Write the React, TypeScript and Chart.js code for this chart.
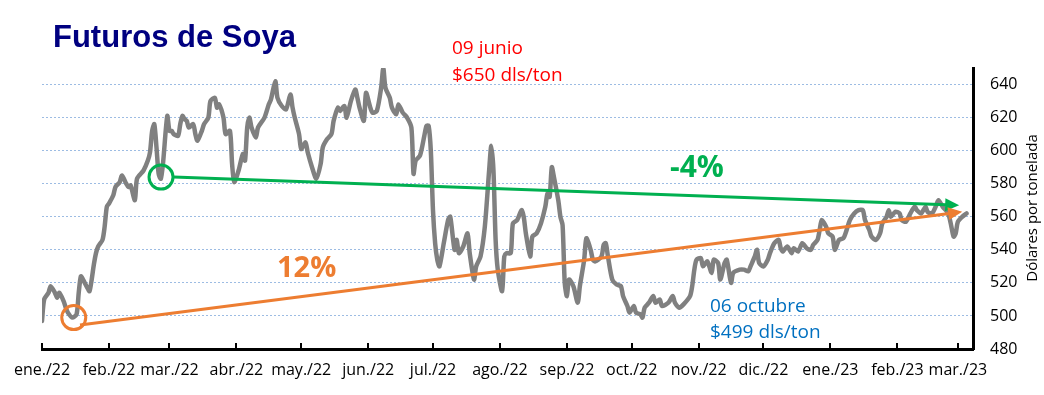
import React, { useEffect, useRef } from 'react';
import { Chart, registerables } from 'chart.js';

Chart.register(...registerables);

// X axis: days counted from 1 Jan 2022; ticks at the first day of each month
const monthTickDays = [0, 31, 59, 90, 120, 151, 181, 212, 243, 273, 304, 334, 365, 396, 424];
const monthLabels = [
  'ene./22', 'feb./22', 'mar./22', 'abr./22', 'may./22', 'jun./22', 'jul./22', 'ago./22',
  'sep./22', 'oct./22', 'nov./22', 'dic./22', 'ene./23', 'feb./23', 'mar./23',
];
const yTickValues = [480, 500, 520, 540, 560, 580, 600, 620, 640];

// Soybean futures (USD / ton), day index from 1 Jan 2022
const dayIndex = [
  0, 1, 3, 4, 6, 7, 8, 10, 11, 12, 14, 16, 17, 18, 19, 21, 22, 23, 24, 25, 26, 28, 29, 30, 31, 33, 34, 36, 37, 39,
  40, 41, 43, 44, 47, 49, 50, 51, 52, 53, 54, 55, 56, 58, 59, 60, 61, 63, 64, 65, 66, 67, 68, 70, 71, 72, 74, 75, 77, 78,
  80, 81, 82, 84, 85, 87, 88, 89, 91, 93, 94, 95, 96, 97, 99, 100, 103, 105, 106, 108, 109, 111, 113, 115, 116, 117, 119, 120, 122, 123,
  125, 127, 129, 130, 132, 134, 135, 137, 138, 140, 141, 143, 145, 146, 147, 149, 150, 152, 153, 155, 157, 158, 159, 161, 162, 164, 165, 167, 169, 171,
  172, 173, 175, 177, 178, 179, 180, 181, 182, 183, 184, 186, 188, 189, 191, 192, 193, 195, 197, 198, 200, 201, 203, 205, 207, 208, 209, 210, 211, 213,
  214, 215, 217, 218, 220, 222, 223, 224, 226, 227, 229, 231, 233, 234, 235, 236, 237, 239, 240, 241, 242, 243, 244, 246, 248, 249, 251, 252, 254, 255,
  256, 259, 260, 261, 262, 264, 266, 268, 269, 271, 272, 274, 275, 277, 278, 279, 281, 283, 284, 286, 287, 290, 292, 293, 295, 297, 300, 301, 302, 303,
  305, 306, 308, 310, 311, 313, 314, 316, 317, 319, 320, 323, 325, 327, 328, 330, 331, 332, 334, 336, 337, 339, 341, 342, 343, 345, 347, 348, 350, 352,
  354, 356, 357, 359, 360, 361, 363, 364, 366, 367, 369, 371, 372, 374, 376, 378, 380, 381, 383, 384, 386, 388, 389, 391, 392, 393, 395, 397, 398, 400,
  402, 404, 405, 407, 409, 410, 412, 414, 415, 417, 419, 420, 421, 422, 423, 424, 426, 428,
];
const soyPrice = [
  497, 510, 514, 518, 514, 511, 514, 509, 505, 502, 499, 501, 514, 524, 522, 517, 515, 522, 531, 538, 542, 546, 554, 566, 568, 573, 578, 581, 585, 580,
  578, 579, 570, 583, 588, 594, 599, 612, 616, 602, 586, 583, 592, 621, 612, 612, 610, 609, 616, 621, 619, 618, 614, 616, 610, 606, 612, 616, 620, 630,
  632, 626, 628, 620, 610, 612, 592, 581, 588, 598, 594, 614, 620, 614, 608, 614, 620, 628, 631, 642, 632, 627, 625, 634, 626, 620, 610, 601, 605, 599,
  590, 583, 592, 602, 607, 610, 618, 626, 624, 627, 620, 630, 637, 632, 626, 618, 635, 626, 623, 624, 638, 650, 638, 632, 626, 622, 628, 623, 620, 614,
  586, 594, 597, 609, 615, 615, 600, 564, 544, 534, 530, 544, 558, 560, 540, 546, 538, 542, 550, 538, 522, 530, 536, 554, 588, 603, 588, 546, 528, 515,
  536, 538, 538, 556, 558, 564, 560, 550, 536, 548, 550, 556, 566, 574, 572, 590, 584, 570, 560, 555, 520, 512, 522, 518, 508, 518, 534, 547, 540, 534,
  533, 536, 543, 544, 536, 522, 519, 518, 512, 506, 502, 506, 502, 501, 499, 505, 508, 512, 508, 510, 506, 508, 512, 508, 505, 507, 512, 518, 528, 534,
  535, 530, 533, 526, 534, 532, 522, 532, 534, 520, 526, 528, 528, 527, 530, 536, 540, 532, 530, 534, 538, 544, 546, 541, 539, 542, 538, 541, 539, 544,
  541, 540, 543, 546, 552, 558, 554, 550, 548, 540, 546, 547, 550, 558, 562, 564, 564, 558, 552, 548, 546, 550, 556, 560, 564, 560, 563, 562, 558, 557,
  562, 566, 564, 562, 566, 563, 562, 567, 570, 566, 563, 560, 554, 548, 550, 557, 560, 562,
];

// Trend arrows [start, end]
const greenTrendDays = [60.9, 424.6];
const greenTrendValues = [584, 567];
const orangeTrendDays = [17.6, 426];
const orangeTrendValues = [494.5, 563];
// Circled points
const circleDays = [14.7, 55.1];
const circleValues = [499, 584];
const circleColors = ['#ED7D31', '#00B050'];

const overlayPlugin = {
  id: 'overlay',
  afterDatasetsDraw(chart: any) {
    const { ctx, scales } = chart;
    const xs = scales.x;
    const ys = scales.y;
    const drawArrow = (days: number[], vals: number[], color: string) => {
      const x0 = xs.getPixelForValue(days[0]);
      const y0 = ys.getPixelForValue(vals[0]);
      const x1 = xs.getPixelForValue(days[1]);
      const y1 = ys.getPixelForValue(vals[1]);
      const ang = Math.atan2(y1 - y0, x1 - x0);
      const headLen = 14;
      const headW = 6.5;
      const bx = x1 - headLen * Math.cos(ang);
      const by = y1 - headLen * Math.sin(ang);
      ctx.save();
      ctx.strokeStyle = color;
      ctx.lineWidth = 3;
      ctx.lineCap = 'butt';
      ctx.beginPath();
      ctx.moveTo(x0, y0);
      ctx.lineTo(bx + 1, by);
      ctx.stroke();
      ctx.fillStyle = color;
      ctx.beginPath();
      ctx.moveTo(x1, y1);
      ctx.lineTo(bx + headW * Math.sin(ang), by - headW * Math.cos(ang));
      ctx.lineTo(bx - headW * Math.sin(ang), by + headW * Math.cos(ang));
      ctx.closePath();
      ctx.fill();
      ctx.restore();
    };
    drawArrow(greenTrendDays, greenTrendValues, '#00B050');
    drawArrow(orangeTrendDays, orangeTrendValues, '#ED7D31');
    circleDays.forEach((d, i) => {
      ctx.save();
      ctx.strokeStyle = circleColors[i];
      ctx.lineWidth = 3;
      ctx.beginPath();
      ctx.arc(xs.getPixelForValue(d), ys.getPixelForValue(circleValues[i]), 12, 0, Math.PI * 2);
      ctx.stroke();
      ctx.restore();
    });
  },
  afterDraw(chart: any) {
    const { ctx, scales, chartArea } = chart;
    const xs = scales.x;
    // inward x tick marks
    ctx.save();
    ctx.strokeStyle = '#000';
    ctx.lineWidth = 2;
    xs.ticks.forEach((t: any) => {
      const px = Math.round(xs.getPixelForValue(t.value));
      ctx.beginPath();
      ctx.moveTo(px, chartArea.bottom);
      ctx.lineTo(px, chartArea.bottom - 6);
      ctx.stroke();
    });
    ctx.restore();

    const text = (s: string, x: number, y: number, font: string, color: string) => {
      ctx.save();
      ctx.font = font;
      ctx.fillStyle = color;
      ctx.textBaseline = 'alphabetic';
      ctx.textAlign = 'left';
      ctx.fillText(s, x, y);
      ctx.restore();
    };
    text('Futuros de Soya', 53, 47, 'bold 31px "Liberation Sans", Arial, sans-serif', '#000080');
    text('09 junio', 452, 54, '19px "Open Sans", sans-serif', '#FF0000');
    text('$650 dls/ton', 452, 81, '19px "Open Sans", sans-serif', '#FF0000');
    text('-4%', 670, 177, 'bold 30px "Open Sans", sans-serif', '#00B050');
    text('12%', 277, 277, 'bold 29px "Open Sans", sans-serif', '#ED7D31');
    text('06 octubre', 710, 312, '19px "Open Sans", sans-serif', '#0070C0');
    text('$499 dls/ton', 710, 338, '19px "Open Sans", sans-serif', '#0070C0');

    // rotated y-axis title
    ctx.save();
    ctx.translate(1037, 208);
    ctx.rotate(-Math.PI / 2);
    ctx.font = '15px "Open Sans", sans-serif';
    ctx.fillStyle = '#000';
    ctx.textAlign = 'center';
    ctx.textBaseline = 'alphabetic';
    ctx.fillText('Dólares por tonelada', 0, 0);
    ctx.restore();
  },
};

export default function App() {
  const canvasRef = useRef<HTMLCanvasElement | null>(null);

  useEffect(() => {
    if (!canvasRef.current) return;
    const chart = new Chart(canvasRef.current, {
      type: 'line',
      data: {
        datasets: [
          {
            label: 'Futuros de Soya',
            data: dayIndex.map((d, i) => ({ x: d, y: soyPrice[i] })),
            borderColor: '#808080',
            borderWidth: 4.5,
            pointRadius: 0,
            tension: 0.25,
            borderJoinStyle: 'round',
            borderCapStyle: 'round',
            fill: false,
          },
        ],
      },
      options: {
        animation: false,
        responsive: false,
        events: [],
        layout: { padding: { left: 42, top: 68, right: 0, bottom: 0 } },
        plugins: {
          legend: { display: false },
          tooltip: { enabled: false },
          title: { display: false },
        },
        scales: {
          x: {
            type: 'linear',
            min: 0,
            max: 431,
            afterBuildTicks: (s: any) => {
              s.ticks = monthTickDays.map((v) => ({ value: v }));
            },
            afterFit: (s: any) => {
              s.height = 46;
            },
            ticks: {
              autoSkip: false,
              maxRotation: 0,
              padding: 12,
              callback: (_v: any, i: number) => monthLabels[i],
              font: { family: '"Open Sans", sans-serif', size: 16 },
              color: '#000',
            },
            grid: { display: false, drawTicks: false },
            border: { display: true, color: '#000', width: 3 },
          },
          y: {
            position: 'right',
            min: 480,
            max: 650,
            afterBuildTicks: (s: any) => {
              s.ticks = yTickValues.map((v) => ({ value: v }));
            },
            afterFit: (s: any) => {
              s.width = 71;
            },
            ticks: {
              padding: 17,
              font: { family: '"Open Sans", sans-serif', size: 16 },
              color: '#000',
            },
            grid: {
              drawTicks: false,
              lineWidth: 1,
              color: (c: any) => (c.tick && c.tick.value === 480 ? 'rgba(0,0,0,0)' : '#9DBCE3'),
            },
            border: { display: true, color: '#000', width: 3, dash: [2, 2] },
          },
        },
      },
      plugins: [overlayPlugin],
    });
    return () => chart.destroy();
  }, []);

  return (
    <div style={{ position: 'fixed', left: 0, top: 0, width: 1044, height: 395, background: '#fff' }}>
      <canvas ref={canvasRef} width={1044} height={395} />
    </div>
  );
}
